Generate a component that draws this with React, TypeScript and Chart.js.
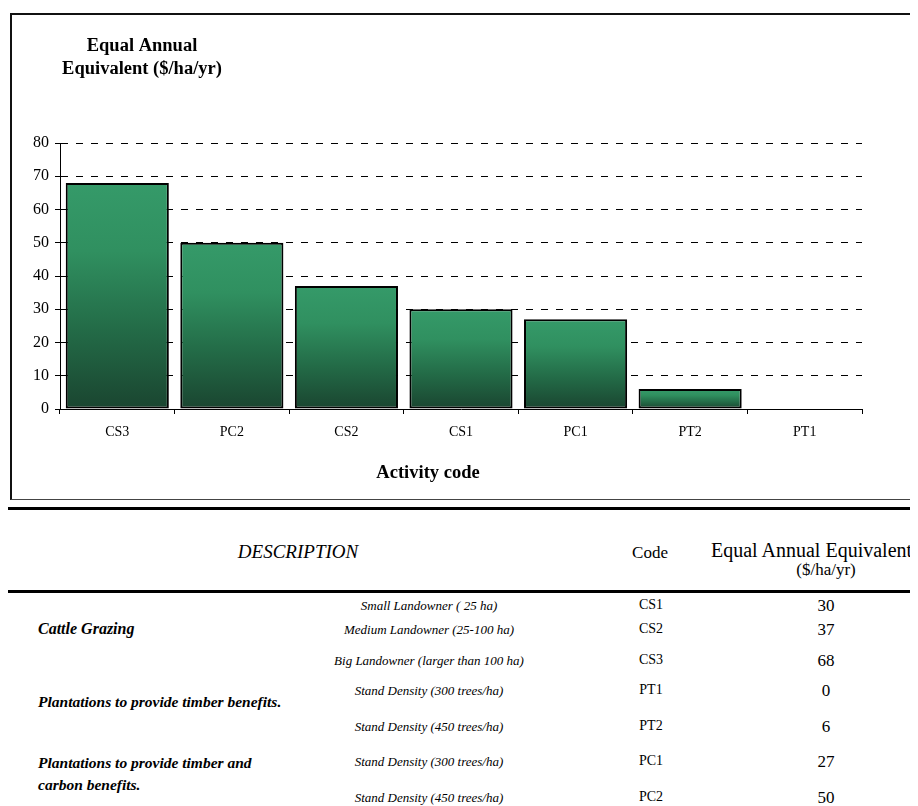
import React, { useEffect, useRef } from "react";
import { Chart, registerables } from "chart.js";

Chart.register(...registerables);

const categories = ["CS3", "PC2", "CS2", "CS1", "PC1", "PT2", "PT1"];
const eaeValues = [68, 50, 37, 30, 27, 6, 0];
const yTitleLines = ["Equal Annual", "Equivalent ($/ha/yr)"];
const xTitle = "Activity code";

const tableHeaders = ["DESCRIPTION", "Code", "Equal Annual Equivalent", "($/ha/yr)"];
const groupLabels = ["Cattle Grazing", "Plantations to provide timber benefits.", "Plantations to provide timber and", "carbon benefits."];
const rowDescriptions = [
  "Small Landowner ( 25 ha)",
  "Medium Landowner (25-100 ha)",
  "Big Landowner (larger than 100 ha)",
  "Stand Density (300 trees/ha)",
  "Stand Density (450 trees/ha)",
  "Stand Density (300 trees/ha)",
  "Stand Density (450 trees/ha)",
];
const rowCodes = ["CS1", "CS2", "CS3", "PT1", "PT2", "PC1", "PC2"];
const rowValues = [30, 37, 68, 0, 6, 27, 50];

const SERIF = "'Times New Roman', 'Liberation Serif', Times, serif";

const titlePlugin = {
  id: "customTitles",
  afterDraw(chart: any) {
    const c = chart.ctx;
    c.save();
    c.fillStyle = "#000";
    c.textAlign = "center";
    c.textBaseline = "middle";
    c.font = `bold 18.5px ${SERIF}`;
    c.fillText(yTitleLines[0], 134, 38);
    c.fillText(yTitleLines[1], 134, 61);
    c.font = `bold 18.5px ${SERIF}`;
    c.fillText(xTitle, 420, 465);
    c.restore();
  },
};

function BarChart() {
  const ref = useRef<HTMLCanvasElement | null>(null);
  useEffect(() => {
    if (!ref.current) return;
    const chart = new Chart(ref.current, {
      type: "bar",
      data: {
        labels: categories,
        datasets: [
          {
            data: eaeValues,
            backgroundColor: (ctx: any) => {
              const ch = ctx.chart;
              if (!ch.chartArea || ctx.type !== "data") return "#2e8b57";
              const ys = ch.scales.y;
              const top = ys.getPixelForValue(ctx.raw as number);
              const bot = ys.getPixelForValue(0);
              if (bot - top < 1) return "#339966";
              const g = ch.ctx.createLinearGradient(0, top, 0, bot);
              g.addColorStop(0, "#359a69");
              g.addColorStop(0.3, "#309060");
              g.addColorStop(0.65, "#236b47");
              g.addColorStop(1, "#1a4530");
              return g;
            },
            borderColor: "#000",
            borderWidth: 2,
            borderSkipped: false,
            barPercentage: 0.9,
            categoryPercentage: 1.0,
          },
        ],
      },
      options: {
        animation: false,
        responsive: false,
        maintainAspectRatio: false,
        layout: { padding: { left: 0, right: 56, top: 135, bottom: 31 } },
        plugins: { legend: { display: false }, tooltip: { enabled: false }, title: { display: false } },
        scales: {
          x: {
            afterFit: (s: any) => {
              s.height = 60;
            },
            grid: { drawOnChartArea: false, tickLength: 5, color: "#000", offset: true },
            border: { color: "#000", width: 1 },
            ticks: { color: "#000", font: { family: SERIF, size: 14 }, padding: 10 },
          },
          y: {
            min: 0,
            max: 80,
            afterFit: (s: any) => {
              s.width = 52;
            },
            ticks: { stepSize: 10, color: "#000", font: { family: SERIF, size: 16 }, padding: 6 },
            grid: { color: "#000", tickColor: "#000", tickLength: 5, lineWidth: 1 },
            border: { color: "#000", width: 1, dash: [7, 8] },
          },
        },
      },
      plugins: [titlePlugin],
    });
    return () => chart.destroy();
  }, []);
  return <canvas ref={ref} width={910} height={492} style={{ position: "absolute", left: 0, top: 0, width: 910, height: 492 }} />;
}

const abs = (x: number, y: number, extra: React.CSSProperties = {}, align: "left" | "center" = "center"): React.CSSProperties => ({
  position: "absolute",
  left: x - 8,
  top: y - 8,
  transform: align === "center" ? "translate(-50%, -50%)" : "translate(0, -50%)",
  whiteSpace: "nowrap",
  fontFamily: SERIF,
  color: "#000",
  lineHeight: 1,
  ...extra,
});

const rowY = [605, 629, 660, 690, 726, 761, 797];

export default function App() {
  useEffect(() => {
    const prev = document.documentElement.style.overflow;
    document.documentElement.style.overflow = "hidden";
    return () => {
      document.documentElement.style.overflow = prev;
    };
  }, []);
  return (
    <div style={{ position: "relative", width: 910, height: 798, overflow: "hidden", fontFamily: SERIF }}>
      <div
        style={{
          position: "absolute",
          left: 2,
          top: 5,
          width: 1000,
          height: 487,
          borderTop: "2px solid #111",
          borderLeft: "2px solid #111",
          borderBottom: "1px solid #444",
          boxSizing: "border-box",
        }}
      />
      <BarChart />
      <div style={{ position: "absolute", left: -2, top: 499, width: 920, height: 3, background: "#000" }} />
      <div style={{ position: "absolute", left: -2, top: 582, width: 920, height: 3, background: "#000" }} />

      <div style={abs(298, 551, { fontSize: 19, fontStyle: "italic" })}>{tableHeaders[0]}</div>
      <div style={abs(650, 552, { fontSize: 17 })}>{tableHeaders[1]}</div>
      <div style={abs(711, 550, { fontSize: 20 }, "left")}>{tableHeaders[2]}</div>
      <div style={abs(826, 569, { fontSize: 17 })}>{tableHeaders[3]}</div>

      <div style={abs(38, 629, { fontSize: 16, fontWeight: "bold", fontStyle: "italic" }, "left")}>{groupLabels[0]}</div>
      <div style={abs(38, 702, { fontSize: 15.5, fontWeight: "bold", fontStyle: "italic" }, "left")}>{groupLabels[1]}</div>
      <div style={abs(38, 763, { fontSize: 15.5, fontWeight: "bold", fontStyle: "italic" }, "left")}>{groupLabels[2]}</div>
      <div style={abs(38, 785, { fontSize: 15.5, fontWeight: "bold", fontStyle: "italic" }, "left")}>{groupLabels[3]}</div>

      {rowDescriptions.map((d, i) => (
        <div key={"d" + i} style={abs(429, rowY[i], { fontSize: 13, fontStyle: "italic" })}>{d}</div>
      ))}
      {rowCodes.map((c, i) => (
        <div key={"c" + i} style={abs(651, rowY[i], { fontSize: 14 })}>{c}</div>
      ))}
      {rowValues.map((v, i) => (
        <div key={"v" + i} style={abs(826, rowY[i], { fontSize: 17 })}>{v}</div>
      ))}
    </div>
  );
}
